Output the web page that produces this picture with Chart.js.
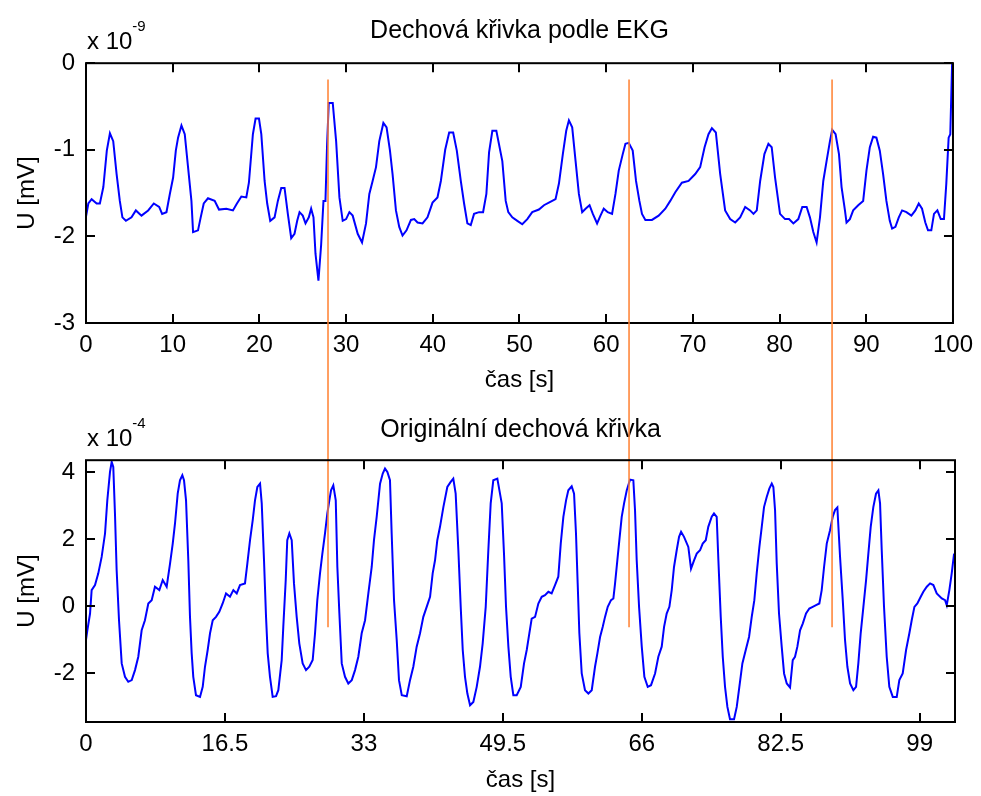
<!DOCTYPE html>
<html>
<head>
<meta charset="utf-8">
<script src="https://cdn.jsdelivr.net/npm/chart.js@4.4.1/dist/chart.umd.min.js"></script>
<style>
    html, body { margin: 0; padding: 0; background: #fff; }
    #wrap { position: relative; width: 981px; height: 796px; }
    #wrap canvas { position: absolute; left: 0; top: 0; }
</style>
</head>
<body>
<div id="wrap">
    <canvas id="ekgChart" width="981" height="796"></canvas>
    <canvas id="origChart" width="981" height="796"></canvas>
</div>
<script>
// Horní graf: dechová křivka odvozená z EKG (hodnoty x 10^-9)
const topTime = [0, 0.27, 0.65, 1.23, 1.6, 2.0, 2.4, 2.76, 3.14, 3.53, 3.9, 4.2, 4.6, 5.25, 5.75, 6.4, 7.17, 7.82, 8.44, 8.78,
    9.28, 9.67, 10.05, 10.36, 10.62, 11.01, 11.39, 11.77, 12.16, 12.35, 12.92, 13.23, 13.58, 14.07, 14.84, 15.34, 16.19, 16.95, 17.41, 17.92,
    18.49, 18.79, 19.25, 19.56, 19.95, 20.22, 20.6, 20.9, 21.25, 21.75, 22.13, 22.52, 22.9, 23.28, 23.67, 24.05, 24.36, 24.63, 25.0, 25.32,
    25.7, 25.97, 26.24, 26.47, 26.81, 27.12, 27.39, 27.62, 27.81, 28.0, 28.46, 28.85, 29.23, 29.61, 30.0, 30.38, 30.76, 31.34, 31.84, 32.3,
    32.68, 33.06, 33.45, 33.83, 34.3, 34.67, 35.06, 35.36, 35.75, 36.13, 36.51, 36.97, 37.48, 37.86, 38.24, 38.82, 39.39, 39.97, 40.54, 40.93,
    41.43, 41.89, 42.35, 42.77, 43.23, 43.61, 43.99, 44.38, 44.76, 45.34, 45.8, 46.18, 46.49, 46.87, 47.33, 48.02, 48.41, 48.71, 49.17, 49.75,
    50.32, 50.9, 51.47, 52.24, 52.82, 53.39, 54.16, 54.55, 55.0, 55.39, 55.7, 56.08, 56.47, 56.85, 57.23, 57.62, 58.08, 58.46, 58.95, 59.34,
    59.72, 60.18, 60.68, 61.07, 61.45, 61.91, 62.22, 62.6, 63.06, 63.44, 63.83, 64.13, 64.52, 65.28, 66.05, 66.82, 67.39, 67.97, 68.73, 69.5,
    70.27, 70.84, 71.35, 71.8, 72.19, 72.65, 73.15, 73.72, 74.3, 74.88, 75.45, 76.03, 76.6, 76.99, 77.37, 77.76, 78.25, 78.71, 79.09, 79.48,
    80.05, 80.63, 81.09, 81.59, 82.16, 82.62, 83.12, 83.5, 83.89, 84.27, 84.66, 85.04, 85.42, 85.81, 86.07, 86.46, 86.85, 87.15, 87.54, 87.72,
    88.11, 88.49, 89.07, 89.64, 90.02, 90.41, 90.79, 91.17, 91.56, 91.94, 92.32, 92.71, 92.98, 93.36, 93.75, 94.13, 94.63, 95.2, 95.66, 96.05,
    96.43, 96.81, 97.12, 97.5, 97.81, 98.2, 98.59, 98.96, 99.23, 99.5, 99.69, 99.9];
const topVoltage = [-1.77, -1.62, -1.57, -1.62, -1.62, -1.43, -1.01, -0.81, -0.90, -1.28, -1.59, -1.78, -1.82, -1.78, -1.70, -1.76, -1.70, -1.62, -1.66, -1.74,
    -1.72, -1.51, -1.32, -1.01, -0.86, -0.72, -0.82, -1.20, -1.59, -1.95, -1.93, -1.78, -1.62, -1.56, -1.59, -1.69, -1.68, -1.70, -1.62, -1.54,
    -1.55, -1.38, -0.82, -0.64, -0.64, -0.82, -1.36, -1.62, -1.82, -1.78, -1.59, -1.44, -1.44, -1.74, -2.02, -1.97, -1.82, -1.72, -1.76, -1.85,
    -1.78, -1.68, -1.78, -2.20, -2.51, -2.10, -1.59, -1.59, -0.93, -0.46, -0.46, -0.90, -1.55, -1.82, -1.80, -1.72, -1.76, -1.97, -2.07, -1.85,
    -1.51, -1.36, -1.20, -0.90, -0.69, -0.74, -1.01, -1.28, -1.70, -1.89, -1.99, -1.93, -1.81, -1.80, -1.84, -1.85, -1.78, -1.61, -1.55, -1.36,
    -1.00, -0.80, -0.80, -1.01, -1.36, -1.62, -1.85, -1.87, -1.74, -1.72, -1.72, -1.51, -1.03, -0.78, -0.78, -1.13, -1.59, -1.72, -1.78, -1.82,
    -1.86, -1.80, -1.72, -1.69, -1.64, -1.61, -1.57, -1.39, -1.05, -0.78, -0.66, -0.74, -1.13, -1.51, -1.72, -1.68, -1.64, -1.74, -1.85, -1.76,
    -1.68, -1.72, -1.74, -1.51, -1.24, -1.05, -0.93, -0.92, -1.01, -1.36, -1.59, -1.74, -1.81, -1.81, -1.76, -1.68, -1.59, -1.49, -1.38, -1.36,
    -1.28, -1.20, -0.97, -0.82, -0.75, -0.80, -1.28, -1.70, -1.80, -1.84, -1.78, -1.66, -1.70, -1.74, -1.70, -1.36, -1.05, -0.93, -0.97, -1.32,
    -1.74, -1.80, -1.80, -1.85, -1.80, -1.66, -1.66, -1.78, -1.95, -2.07, -1.78, -1.36, -1.13, -0.90, -0.77, -0.82, -1.05, -1.43, -1.70, -1.84,
    -1.80, -1.70, -1.64, -1.59, -1.24, -0.97, -0.85, -0.86, -1.01, -1.28, -1.59, -1.82, -1.91, -1.89, -1.78, -1.70, -1.72, -1.76, -1.70, -1.62,
    -1.68, -1.84, -1.93, -1.93, -1.74, -1.70, -1.80, -1.80, -1.39, -0.86, -0.82, 0.0];
const topXTicks = [0, 10, 20, 30, 40, 50, 60, 70, 80, 90, 100];
const topYTicks = [-3, -2, -1, 0];

// Dolní graf: originální dechová křivka (hodnoty x 10^-4)
const bottomTime = [0, 0.16, 0.48, 0.67, 1.07, 1.46, 1.86, 2.26, 2.53, 2.85, 3.05, 3.24, 3.44, 3.64, 3.92, 4.24, 4.63, 5.02, 5.43, 5.82,
    6.21, 6.61, 7.0, 7.4, 7.8, 8.19, 8.71, 9.11, 9.58, 9.98, 10.3, 10.57, 10.89, 11.16, 11.44, 11.64, 11.88, 12.15, 12.35, 12.55,
    12.74, 13.06, 13.54, 13.86, 14.13, 14.45, 14.73, 15.05, 15.44, 15.83, 16.23, 16.63, 17.1, 17.5, 17.9, 18.29, 18.88, 19.16, 19.48, 19.8,
    20.07, 20.35, 20.67, 20.87, 21.14, 21.38, 21.58, 21.85, 22.17, 22.57, 22.84, 23.24, 23.43, 23.72, 23.9, 24.15, 24.43, 24.7, 25.02, 25.33,
    25.73, 26.13, 26.52, 26.92, 27.2, 27.47, 27.79, 28.07, 28.38, 28.66, 28.9, 29.1, 29.37, 29.66, 29.85, 30.09, 30.37, 30.76, 31.15, 31.56,
    31.95, 32.34, 32.74, 33.14, 33.53, 33.93, 34.2, 34.52, 34.92, 35.24, 35.51, 35.79, 36.1, 36.3, 36.58, 36.9, 37.17, 37.5, 38.09, 38.48,
    38.87, 39.27, 39.67, 40.06, 40.46, 40.86, 41.17, 41.45, 41.72, 42.04, 42.44, 42.91, 43.31, 43.62, 43.9, 44.22, 44.5, 44.74, 45.01, 45.29,
    45.61, 46.0, 46.4, 46.79, 47.11, 47.47, 47.78, 48.06, 48.37, 48.85, 49.37, 49.64, 49.88, 50.16, 50.44, 50.75, 51.15, 51.63, 52.02, 52.34,
    52.65, 52.93, 53.33, 53.72, 54.12, 54.51, 54.91, 55.3, 55.7, 56.09, 56.38, 56.69, 57.01, 57.28, 57.68, 57.96, 58.19, 58.39, 58.59, 58.87,
    59.26, 59.66, 60.06, 60.45, 60.73, 61.05, 61.36, 61.64, 61.96, 62.35, 62.63, 62.83, 63.1, 63.34, 63.62, 63.9, 64.22, 64.61, 65.0, 65.2,
    65.4, 65.68, 66.0, 66.31, 66.71, 67.1, 67.58, 67.97, 68.37, 68.65, 68.96, 69.28, 69.56, 69.83, 70.15, 70.43, 70.67, 71.02, 71.53, 71.85,
    72.21, 72.53, 72.92, 73.24, 73.6, 73.9, 74.31, 74.58, 74.9, 75.1, 75.38, 75.62, 75.89, 76.17, 76.48, 76.96, 77.28, 77.59, 77.95, 78.35,
    78.74, 79.06, 79.37, 79.65, 79.97, 80.25, 80.52, 80.84, 81.15, 81.44, 81.63, 81.83, 82.03, 82.3, 82.62, 82.9, 83.22, 83.61, 83.93, 84.2,
    84.48, 84.8, 85.12, 85.51, 85.9, 86.3, 86.7, 87.09, 87.37, 87.65, 87.97, 88.36, 88.68, 88.95, 89.23, 89.55, 89.87, 90.14, 90.42, 90.74,
    91.13, 91.45, 91.72, 92.0, 92.32, 92.64, 92.91, 93.19, 93.5, 93.82, 94.1, 94.3, 94.5, 94.77, 95.09, 95.4, 95.81, 96.28, 96.59, 96.99,
    97.39, 97.78, 98.06, 98.38, 98.73, 99.13, 99.44, 99.85, 100.24, 100.63, 101.03, 101.63, 102.02, 102.22, 102.53, 102.81, 103.09];
const bottomVoltage = [-1.01, -0.72, -0.22, 0.48, 0.63, 0.98, 1.47, 2.17, 3.16, 4.01, 4.31, 4.16, 2.77, 1.07, -0.42, -1.71, -2.11, -2.26, -2.21, -1.91,
    -1.51, -0.72, -0.42, 0.08, 0.18, 0.58, 0.48, 0.78, 0.58, 1.27, 1.87, 2.47, 3.36, 3.76, 3.91, 3.76, 3.16, 1.37, -0.32, -1.41,
    -2.11, -2.66, -2.71, -2.41, -1.81, -1.31, -0.81, -0.42, -0.32, -0.17, 0.08, 0.38, 0.28, 0.48, 0.38, 0.63, 0.68, 1.27, 1.97, 2.57,
    3.16, 3.56, 3.66, 3.07, 1.37, -0.32, -1.41, -2.11, -2.71, -2.69, -2.51, -1.61, -0.62, 0.78, 1.97, 2.17, 1.97, 0.68, -0.32, -1.11,
    -1.71, -1.91, -1.81, -1.61, -0.81, 0.18, 0.98, 1.57, 2.17, 2.77, 3.16, 3.46, 3.61, 3.16, 1.17, -0.22, -1.71, -2.11, -2.31, -2.21,
    -1.91, -1.51, -0.81, -0.42, 0.38, 1.17, 1.97, 2.67, 3.66, 3.96, 4.11, 4.01, 3.76, 2.17, 0.18, -1.01, -2.21, -2.66, -2.69, -2.21,
    -1.81, -1.21, -0.81, -0.32, -0.02, 0.28, 0.98, 1.37, 1.97, 2.37, 2.96, 3.56, 3.71, 3.81, 3.36, 1.67, -0.02, -1.31, -2.11, -2.61,
    -2.96, -2.86, -2.41, -1.81, -1.11, -0.02, 1.67, 3.07, 3.76, 3.81, 3.07, 1.57, -0.02, -1.21, -2.11, -2.66, -2.66, -2.41, -1.71, -1.31,
    -0.81, -0.37, -0.32, 0.08, 0.28, 0.33, 0.43, 0.38, 0.63, 0.88, 1.87, 2.67, 3.16, 3.46, 3.58, 3.36, 2.17, 0.68, -0.81, -2.01,
    -2.51, -2.61, -2.51, -1.81, -1.41, -0.92, -0.62, -0.32, -0.02, 0.18, 0.23, 0.68, 1.37, 1.97, 2.67, 3.07, 3.46, 3.78, 3.76, 2.87,
    1.37, -0.02, -1.21, -2.11, -2.41, -2.36, -2.01, -1.51, -1.21, -0.62, -0.22, -0.02, 0.48, 1.17, 1.67, 2.07, 2.22, 2.07, 1.77, 1.12,
    1.37, 1.57, 1.67, 1.87, 1.97, 2.37, 2.67, 2.77, 2.67, 1.37, -0.32, -1.51, -2.41, -3.01, -3.38, -3.38, -3.01, -2.41, -1.71, -1.31,
    -0.92, -0.32, 0.18, 0.98, 1.77, 2.37, 2.96, 3.26, 3.51, 3.66, 3.56, 2.87, 1.27, -0.22, -1.21, -2.01, -2.31, -2.43, -1.61, -1.51,
    -1.21, -0.72, -0.52, -0.22, -0.07, -0.02, 0.03, 0.08, 0.48, 1.17, 1.87, 2.27, 2.67, 2.87, 2.95, 1.47, 0.18, -1.01, -1.81, -2.31,
    -2.51, -2.41, -1.71, -0.81, -0.02, 0.78, 1.57, 2.37, 2.96, 3.36, 3.46, 3.07, 1.67, -0.02, -1.51, -2.41, -2.71, -2.71, -2.21, -2.01,
    -1.31, -0.81, -0.42, -0.02, 0.08, 0.28, 0.43, 0.58, 0.68, 0.63, 0.38, 0.23, 0.18, 0.03, 0.48, 0.98, 1.57];
const bottomXTicks = [0, 16.5, 33, 49.5, 66, 82.5, 99];
const bottomYTicks = [-2, 0, 2, 4];

// Oranžové svislé značky (čas v ose dolního grafu, rozsah v jeho jednotkách)
const markerTimes = [28.74, 64.49, 88.6];
const markerTop = 15.73;
const markerBottom = -0.63;

const FONT = 'Liberation Sans, Arial, Helvetica, sans-serif';
Chart.defaults.font.family = FONT;
Chart.defaults.font.size = 24;
Chart.defaults.color = '#000';

// Plugin: rámeček ve stylu MATLABu s dovnitř směřujícími značkami a exponentem osy
const matlabAxes = {
    id: 'matlabAxes',
    afterDraw(chart) {
        const { ctx, chartArea: a, scales: { x, y } } = chart;
        const opts = chart.options.plugins.matlabAxes;
        ctx.save();
        ctx.strokeStyle = '#000';
        ctx.lineWidth = 2;
        ctx.strokeRect(a.left, a.top, a.right - a.left, a.bottom - a.top);
        ctx.beginPath();
        x.ticks.forEach(t => {
            const px = Math.round(x.getPixelForValue(t.value));
            ctx.moveTo(px, a.bottom); ctx.lineTo(px, a.bottom - 9);
            ctx.moveTo(px, a.top); ctx.lineTo(px, a.top + 9);
        });
        y.ticks.forEach(t => {
            const py = Math.round(y.getPixelForValue(t.value));
            ctx.moveTo(a.left, py); ctx.lineTo(a.left + 9, py);
            ctx.moveTo(a.right, py); ctx.lineTo(a.right - 9, py);
        });
        ctx.stroke();

        // "x 10^n" nad osou y
        ctx.fillStyle = '#000';
        ctx.textBaseline = 'alphabetic';
        ctx.textAlign = 'left';
        ctx.font = '24px ' + FONT;
        ctx.fillText('x 10', a.left + 1, a.top - 14);
        const w = ctx.measureText('x 10').width;
        ctx.font = '15px ' + FONT;
        ctx.fillText(opts.exponent, a.left + 1 + w, a.top - 32);
        ctx.restore();
    }
};

// Společné nastavení os
const buildScales = (xMin, xMax, xTicks, yMin, yMax, yTicks, xTitlePad, xTickPad) => ({
    x: {
        type: 'linear',
        min: xMin,
        max: xMax,
        grid: { display: false, drawTicks: false },
        border: { display: false },
        afterBuildTicks: (scale) => { scale.ticks = xTicks.map(v => ({ value: v })); },
        afterFit: (scale) => { scale.height = xTitlePad.height; },
        ticks: { padding: xTickPad, maxRotation: 0, autoSkip: false, callback: (v) => String(v) },
        title: { display: true, text: 'čas [s]', padding: { top: 0, bottom: xTitlePad.bottom } }
    },
    y: {
        type: 'linear',
        min: yMin,
        max: yMax,
        grid: { display: false, drawTicks: false },
        border: { display: false },
        afterBuildTicks: (scale) => { scale.ticks = yTicks.map(v => ({ value: v })); },
        afterFit: (scale) => { scale.width = 86; },
        ticks: { padding: 11, autoSkip: false, callback: (v) => String(v) },
        title: { display: true, text: 'U [mV]', padding: { top: 12.6, bottom: 0 } }
    }
});

const toPoints = (xs, ys) => xs.map((t, i) => ({ x: t, y: ys[i] }));

// Horní graf
new Chart(document.getElementById('ekgChart'), {
    type: 'line',
    data: {
        datasets: [{
            data: toPoints(topTime, topVoltage),
            borderColor: '#0000ff',
            borderWidth: 2,
            pointRadius: 0,
            tension: 0
        }]
    },
    options: {
        responsive: false,
        animation: false,
        devicePixelRatio: 1,
        layout: { padding: { left: 0, right: 26, top: 0, bottom: 396 } },
        plugins: {
            legend: { display: false },
            tooltip: { enabled: false },
            title: {
                display: true,
                fullSize: false,
                text: 'Dechová křivka podle EKG',
                font: { size: 25, weight: 'normal' },
                padding: { top: 16.6, bottom: 16.6 }
            },
            matlabAxes: { exponent: '-9' }
        },
        scales: buildScales(0, 100, topXTicks, -3, 0, topYTicks, { height: 77, bottom: 5.6 }, 8)
    },
    plugins: [matlabAxes]
});

// Dolní graf se značkami
const markerPoints = [];
markerTimes.forEach(t => {
    markerPoints.push({ x: t, y: markerTop }, { x: t, y: markerBottom }, { x: t, y: null });
});

new Chart(document.getElementById('origChart'), {
    type: 'line',
    data: {
        datasets: [{
            data: markerPoints,
            borderColor: '#ff8030',
            borderWidth: 1.5,
            pointRadius: 0,
            spanGaps: false,
            clip: false,
            order: 0
        }, {
            data: toPoints(bottomTime, bottomVoltage),
            borderColor: '#0000ff',
            borderWidth: 2,
            pointRadius: 0,
            tension: 0,
            order: 1
        }]
    },
    options: {
        responsive: false,
        animation: false,
        devicePixelRatio: 1,
        layout: { padding: { left: 0, right: 26, top: 400, bottom: 0 } },
        plugins: {
            legend: { display: false },
            tooltip: { enabled: false },
            title: {
                display: true,
                fullSize: false,
                text: 'Originální dechová křivka',
                font: { size: 25, weight: 'normal' },
                padding: { top: 15.1, bottom: 15.1 }
            },
            matlabAxes: { exponent: '-4' }
        },
        scales: buildScales(0, 103.2, bottomXTicks, -3.46, 4.36, bottomYTicks, { height: 74, bottom: 1.6 }, 8)
    },
    plugins: [matlabAxes]
});
</script>
</body>
</html>
